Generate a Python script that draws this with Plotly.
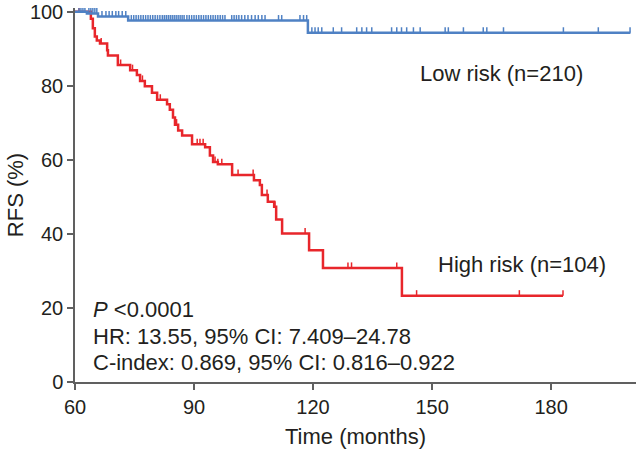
import plotly.graph_objects as go

# ---- data ----
red_t = [60, 64.0, 64.5, 65.0, 65.5, 66.3, 68.1, 68.3, 70.8, 73.9, 75.6, 76.4, 77.6, 79.4, 80.7,
         83.2, 83.9, 84.7, 85.2, 86.0, 87.0, 89.5, 92.8, 94.0, 94.8, 96.0, 99.6, 105.1, 106.6,
         107.1, 108.6, 110.2, 110.7, 112.2, 119.0, 122.5, 142.4, 183.0]
red_s = [100, 98.1, 95.5, 93.3, 92.2, 91.4, 89.6, 88.2, 85.6, 84.2, 82.9, 81.3, 79.9, 78.1, 76.2,
         75.0, 73.5, 71.4, 69.5, 67.9, 66.6, 64.2, 63.4, 61.2, 59.4, 58.8, 55.9, 54.5, 53.2,
         50.5, 48.7, 47.3, 43.9, 40.1, 35.6, 30.8, 23.3, 23.3]
red_censor = [61.0, 66.6, 71.5, 74.5, 77.0, 81.5, 85.6, 90.8, 91.5, 92.3, 95.3, 96.0, 97.0,
              101.1, 104.9, 108.4, 110.4, 118.0, 128.8, 129.7, 141.1, 146.1, 172.0, 183.0]

blue_t = [60, 63.0, 65.8, 73.4, 118.7, 200.0]
blue_s = [100, 99.5, 98.7, 97.6, 94.3, 94.3]
blue_censor = [61.0, 61.5, 62.0, 62.5, 63.5, 64.0, 64.5, 65.0, 65.5,
               66.8, 67.8, 68.6, 69.4, 70.3, 71.0, 71.9, 72.8,
               74.2, 74.8, 75.4, 76.0, 76.6, 77.2, 77.8, 78.4, 79.0, 79.6, 80.2, 80.8, 81.4,
               82.0, 82.5, 83.0, 83.5, 84.0, 84.5, 85.0, 85.5, 86.0, 86.5, 87.0, 87.5,
               88.2, 88.8, 89.4, 90.0, 90.6, 91.2, 91.8, 92.4, 93.0, 93.6, 94.2, 94.8,
               95.4, 96.0, 96.6, 97.2, 97.8, 99.5, 100.1, 100.7, 101.3, 102.0, 102.8, 103.6,
               104.5, 105.4, 106.2, 107.1, 107.9, 111.3, 112.1, 116.7, 117.6, 118.4,
               119.7, 120.5, 121.3, 122.2, 125.1, 127.2, 131.0, 132.3, 133.5, 134.8,
               139.8, 141.1, 142.3, 143.6, 145.3, 147.0, 153.3, 154.1, 157.9, 162.9, 163.8,
               168.0, 183.1, 191.9, 199.9]

x_ticks = [60, 90, 120, 150, 180]
y_ticks = [0, 20, 40, 60, 80, 100]

BLUE = "#4f81c4"
RED = "#e8262b"
TXT = "#231f20"
FONT = "Liberation Sans, Arial, sans-serif"


def surv_at(ts, ss, t):
    v = ss[0]
    for ti, si in zip(ts, ss):
        if ti <= t:
            v = si
        else:
            break
    return v


def censor_segments(ts, ss, cens, h=1.5):
    xs, ys = [], []
    for c in cens:
        s = surv_at(ts, ss, c)
        xs += [c, c, None]
        ys += [s, s + h, None]
    return xs, ys


fig = go.Figure()

fig.add_trace(go.Scatter(x=red_t, y=red_s, mode="lines", line=dict(color=RED, width=2.5, shape="hv"),
                         hoverinfo="skip", cliponaxis=False))
rx, ry = censor_segments(red_t, red_s, red_censor)
fig.add_trace(go.Scatter(x=rx, y=ry, mode="lines", line=dict(color=RED, width=1.5), hoverinfo="skip",
                         cliponaxis=False))

fig.add_trace(go.Scatter(x=blue_t, y=blue_s, mode="lines", line=dict(color=BLUE, width=2.5, shape="hv"),
                         hoverinfo="skip", cliponaxis=False))
bx, by = censor_segments(blue_t, blue_s, blue_censor)
fig.add_trace(go.Scatter(x=bx, y=by, mode="lines", line=dict(color=BLUE, width=1.5), hoverinfo="skip",
                         cliponaxis=False))

ann_font = dict(family=FONT, size=22, color=TXT)
fig.add_annotation(x=146.5, y=83.4, text="Low risk (n=210)", showarrow=False,
                   xanchor="left", yanchor="middle", font=ann_font)
fig.add_annotation(x=151.0, y=31.8, text="High risk (n=104)", showarrow=False,
                   xanchor="left", yanchor="middle", font=ann_font)
fig.add_annotation(x=64.0, y=19.5, text="<i>P</i> &lt;0.0001", showarrow=False,
                   xanchor="left", yanchor="middle", font=ann_font)
fig.add_annotation(x=64.0, y=12.3, text="HR: 13.55, 95% CI: 7.409–24.78", showarrow=False,
                   xanchor="left", yanchor="middle", font=ann_font)
fig.add_annotation(x=64.0, y=5.3, text="C-index: 0.869, 95% CI: 0.816–0.922", showarrow=False,
                   xanchor="left", yanchor="middle", font=ann_font)

axis_common = dict(showgrid=False, zeroline=False, showline=True, linecolor="#606060", linewidth=1.5,
                   ticks="outside", ticklen=6, tickwidth=1.5, tickcolor="#606060",
                   ticklabeloverflow="allow",
                   tickfont=dict(family=FONT, size=20, color=TXT))

fig.update_xaxes(range=[60, 201.4], tickvals=x_ticks, ticktext=[str(v) for v in x_ticks],
                 title=dict(text="Time (months)", font=dict(family=FONT, size=22, color=TXT), standoff=12),
                 **axis_common)
fig.update_yaxes(range=[0, 101], tickvals=y_ticks, ticktext=[str(v) for v in y_ticks],
                 title=dict(text="RFS (%)", font=dict(family=FONT, size=22, color=TXT), standoff=0),
                 **axis_common)

fig.update_layout(width=637, height=461, margin=dict(l=75, r=1, t=4, b=79),
                  plot_bgcolor="white", paper_bgcolor="white", showlegend=False,
                  hovermode=False)

fig.write_html("out.html", config={"displayModeBar": False},
               post_script="document.body.style.margin='0';document.body.style.overflow='hidden';")
